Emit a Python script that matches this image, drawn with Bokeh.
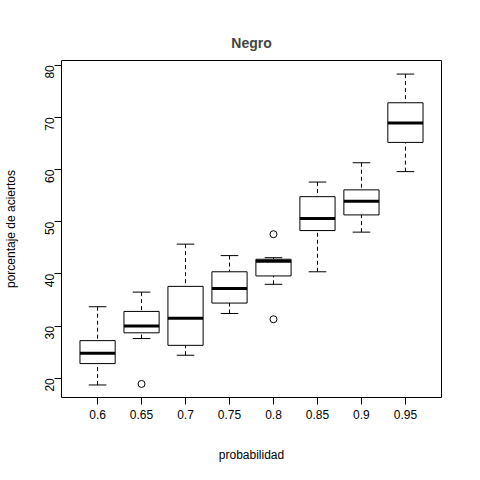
import numpy as np
from bokeh.plotting import figure
from bokeh.models import FixedTicker, Range1d
from bokeh.embed import file_html
from bokeh.resources import INLINE

cats = ["0.6", "0.65", "0.7", "0.75", "0.8", "0.85", "0.9", "0.95"]
lower = [18.7, 27.6, 24.4, 32.4, 38.0, 40.4, 48.0, 59.6]
q1 = [22.8, 28.7, 26.3, 34.4, 39.6, 48.3, 51.3, 65.2]
med = [24.8, 30.0, 31.5, 37.2, 42.4, 50.6, 53.9, 68.9]
q3 = [27.2, 32.8, 37.6, 40.4, 42.8, 54.8, 56.1, 72.8]
upper = [33.7, 36.5, 45.7, 43.5, 43.1, 57.6, 61.3, 78.3]
out_x = [2, 5, 5]
out_y = [18.9, 47.6, 31.3]

x = np.arange(1, len(cats) + 1)

p = figure(width=464, height=464, output_backend="svg", toolbar_location=None,
           x_range=Range1d(0.18, 8.82), y_range=Range1d(16.3, 80.9),
           min_border_left=51, min_border_right=23, min_border_top=60, min_border_bottom=56,
           title="Negro")
p.title.align = "center"
p.title.text_font = "Liberation Sans"
p.title.text_font_size = "14px"
p.title.text_font_style = "bold"
p.title.standoff = 20
p.grid.visible = False
p.outline_line_color = "black"
p.background_fill_color = "white"

# whiskers and caps
p.segment(x, upper, x, q3, line_color="black", line_dash="4 3")
p.segment(x, lower, x, q1, line_color="black", line_dash="4 3")
p.segment(x - 0.2, upper, x + 0.2, upper, line_color="black")
p.segment(x - 0.2, lower, x + 0.2, lower, line_color="black")
# boxes
p.vbar(x=x, bottom=q1, top=q3, width=0.8, fill_color="white", line_color="black")
p.segment(x - 0.4, med, x + 0.4, med, line_color="black", line_width=3)
p.scatter(out_x, out_y, size=7, fill_color=None, line_color="black")

p.xaxis.ticker = FixedTicker(ticks=list(x))
p.xaxis.major_label_overrides = {int(i): c for i, c in zip(x, cats)}
p.yaxis.ticker = FixedTicker(ticks=[20, 30, 40, 50, 60, 70, 80])
p.yaxis.major_label_orientation = np.pi / 2
p.xaxis.axis_label = "probabilidad"
p.yaxis.axis_label = "porcentaje de aciertos"
for ax in (p.xaxis, p.yaxis):
    ax.axis_line_color = None
    ax.major_tick_line_color = "black"
    ax.major_tick_out = 7
    ax.major_tick_in = 0
    ax.minor_tick_line_color = None
    ax.major_label_text_font = "Liberation Sans"
    ax.major_label_text_font_size = "12px"
    ax.major_label_text_color = "black"
    ax.axis_label_text_font = "Liberation Sans"
    ax.axis_label_text_font_size = "12px"
    ax.axis_label_text_font_style = "normal"
    ax.axis_label_text_color = "black"
p.xaxis.axis_label_standoff = 26
p.yaxis.axis_label_standoff = 20

open("out.html", "w").write(file_html(p, INLINE))
